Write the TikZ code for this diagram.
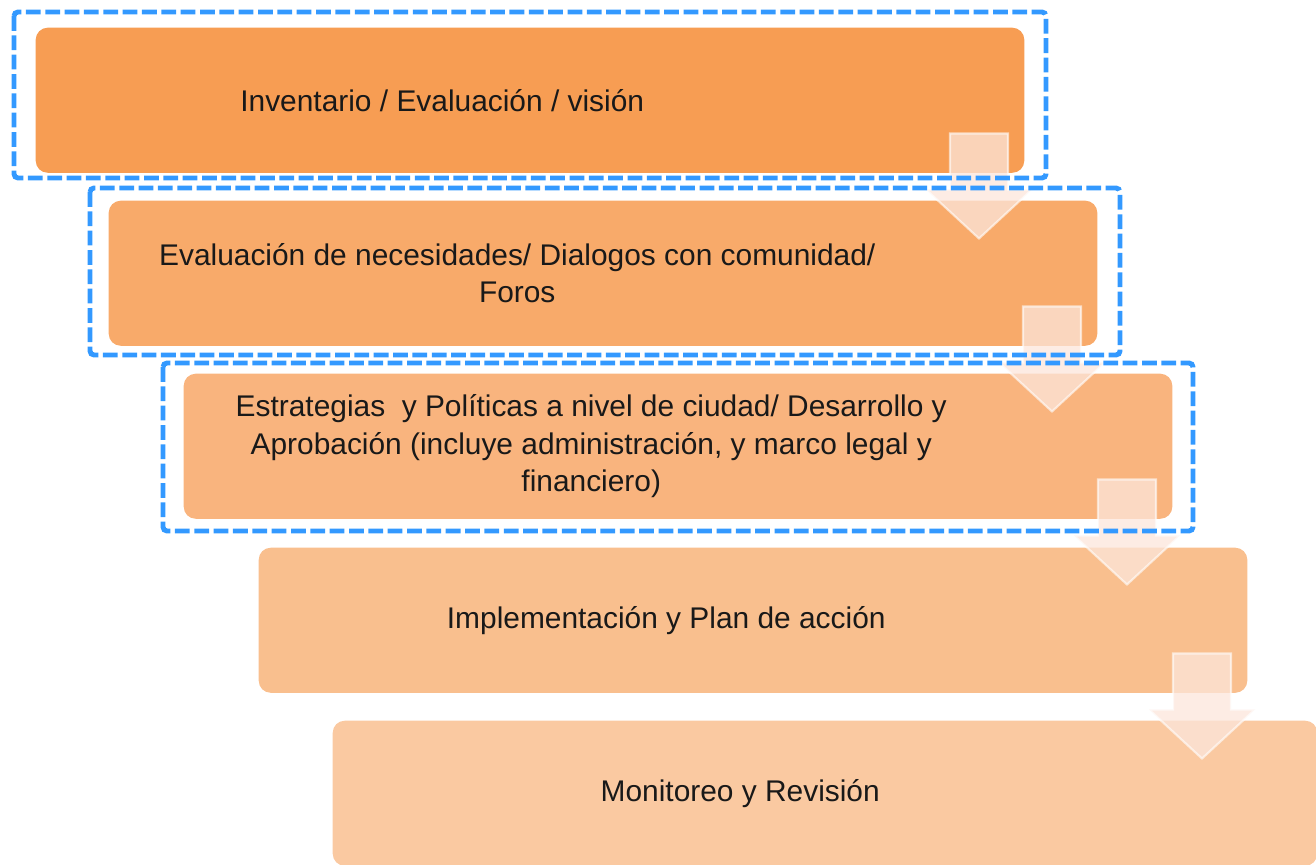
\documentclass[tikz,border=0pt]{standalone}
\usepackage{fontspec}
\setmainfont{Liberation Sans}
\usetikzlibrary{positioning}
\definecolor{stageA}{HTML}{F79D53}
\definecolor{stageB}{HTML}{F8AA6A}
\definecolor{stageC}{HTML}{F9B47E}
\definecolor{stageD}{HTML}{F9BF8E}
\definecolor{stageE}{HTML}{FAC9A1}
\definecolor{dashblue}{HTML}{3399FF}
\definecolor{arrowfill}{HTML}{FCE6DB}

\begin{document}
\begin{tikzpicture}[x=0.01cm, y=-0.01cm,
  stage/.style={rectangle, rounded corners=0.12cm, minimum width=9.88cm, minimum height=1.45cm, inner sep=0pt, anchor=north west},
  stagetext/.style={align=center, font=\fontsize{8.5}{10.7}\selectfont, text=black!90},
  group/.style={draw=dashblue, line width=1.4pt, dash pattern=on 4.2pt off 1.3pt, rounded corners=0.04cm},
  blockarrow/.style={fill=arrowfill, fill opacity=0.75, draw=white, draw opacity=0.6, line width=0.6pt}]
\useasboundingbox (0,0) rectangle (1316,864);

% the five stages
\node[stage, fill=stageA] (b1) at (35,27) {};
\node[stage, fill=stageB] (b2) at (108,200) {};
\node[stage, fill=stageC] (b3) at (183,373) {};
\node[stage, fill=stageD] (b4) at (258,547) {};
\node[stage, fill=stageE, minimum width=9.84cm] (b5) at (332,720) {};

% texts
\node[stagetext] (t1) at ([xshift=4.07cm]b1.west) {Inventario / Evaluación / visión};
\node[stagetext] (t2) at ([xshift=4.09cm]b2.west) {Evaluación de necesidades/ Dialogos con comunidad/\\Foros};
\node[stagetext] (t3) at ([xshift=4.08cm]b3.west) {Estrategias\ \ y Políticas a nivel de ciudad/ Desarrollo y\\Aprobación (incluye administración, y marco legal y\\financiero)};
\node[stagetext] (t4) at ([xshift=4.08cm]b4.west) {Implementación y Plan de acción};
\node[stagetext] (t5) at ([xshift=4.08cm]b5.west) {Monitoreo y Revisión};

% down arrows between stages
\foreach \i in {1,2,3,4}
  \draw[blockarrow] (b\i.south east) ++(-75,-40) -- ++(58,0) -- ++(0,56) -- ++(24,0)
    -- ++(-53,49) -- ++(-53,-49) -- ++(24,0) -- cycle;

% dashed groups
\draw[group] (14,12) rectangle (1046,178);
\draw[group] (90,188) rectangle (1120,355);
\draw[group] (163,363) rectangle (1193,531);
\end{tikzpicture}
\end{document}
